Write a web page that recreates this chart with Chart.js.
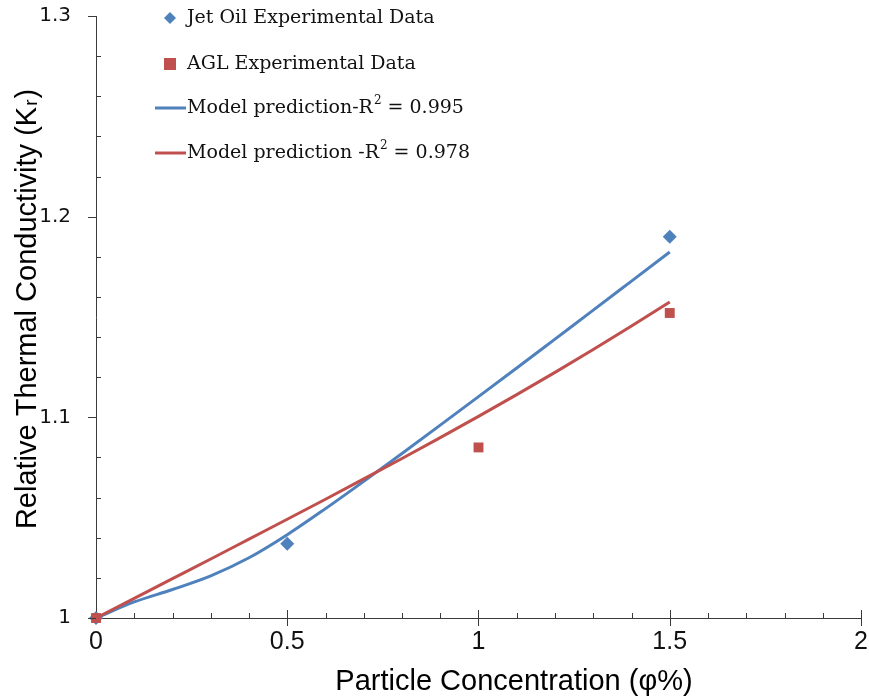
<!DOCTYPE html>
<html>
<head>
<meta charset="utf-8">
<script src="https://cdn.jsdelivr.net/npm/chart.js@4/dist/chart.umd.min.js"></script>
<style>
    html, body { margin: 0; padding: 0; background: #fff; }
    #wrap { width: 869px; height: 698px; position: relative; }
</style>
</head>
<body>
<div id="wrap"><canvas id="chart"></canvas></div>
<script>
// experimental points
const jetOilX = [0, 0.5, 1.5];
const jetOilY = [1.0, 1.037, 1.190];
const aglX = [0, 1.0, 1.5];
const aglY = [1.0, 1.085, 1.152];

// model curves
const modelX = [0, 0.1, 0.2, 0.3, 0.4, 0.5, 0.6, 0.7, 0.8, 0.9, 1.0, 1.1, 1.2, 1.3, 1.4, 1.5];
const modelJetOil = [1.000, 1.0080, 1.0142, 1.0210, 1.0300, 1.0415, 1.0545, 1.0681, 1.0820, 1.0961, 1.1103, 1.1246, 1.1390, 1.1534, 1.1679, 1.1824];
const modelAgl = [1.000, 1.0098, 1.0196, 1.0294, 1.0393, 1.0492, 1.0592, 1.0693, 1.0795, 1.0899, 1.1005, 1.1113, 1.1224, 1.1338, 1.1455, 1.1575];

const legendLabels = ['Jet Oil Experimental Data', 'AGL Experimental Data', 'Model prediction-R', 'Model prediction -R'];
const legendR2 = ['', '', ' = 0.995', ' = 0.978'];

const BLUE = '#4F81BD';
const RED = '#C0504D';
const AXIS = '#3a3a3a';

const toXY = (xs, ys) => xs.map((v, i) => ({ x: v, y: ys[i] }));
const fmt = v => String(+v.toFixed(2));

// minor ticks, crossing major ticks, axis titles and legend
const decor = {
    id: 'decor',
    afterDraw(chart) {
        const { ctx, scales: { x, y } } = chart;
        const x0 = x.getPixelForValue(0);
        const y0 = y.getPixelForValue(1);
        ctx.save();
        ctx.strokeStyle = AXIS;
        ctx.lineWidth = 1;
        ctx.beginPath();
        for (let v = 1; v <= 1.3001; v += 0.02) {
            const py = Math.round(y.getPixelForValue(v)) + 0.5;
            const major = Math.abs(v * 10 - Math.round(v * 10)) < 1e-6;
            if (major) { ctx.moveTo(x0 - 8, py); ctx.lineTo(x0, py); }
            else { ctx.moveTo(x0, py); ctx.lineTo(x0 + 5, py); }
        }
        for (let v = 0.1; v <= 2.0001; v += 0.1) {
            const px = Math.round(x.getPixelForValue(v)) + 0.5;
            const major = Math.abs(v * 2 - Math.round(v * 2)) < 1e-6;
            if (major) { ctx.moveTo(px, y0 - 8); ctx.lineTo(px, y0 + 8); }
            else { ctx.moveTo(px, y0 - 5); ctx.lineTo(px, y0); }
        }
        ctx.stroke();

        // y title with subscript r
        ctx.fillStyle = '#000';
        ctx.translate(28, 310);
        ctx.rotate(-Math.PI / 2);
        const big = '29px "Liberation Sans", Arial, sans-serif';
        const small = '19px "Liberation Sans", Arial, sans-serif';
        ctx.font = big;
        const a = 'Relative Thermal Conductivity (K';
        const wa = ctx.measureText(a).width;
        ctx.font = small;
        const wr = ctx.measureText('r').width;
        ctx.font = big;
        const wc = ctx.measureText(')').width;
        let sx = -(wa + wr + wc) / 2;
        ctx.textBaseline = 'middle';
        ctx.fillText(a, sx, 0);
        ctx.font = small;
        ctx.fillText('r', sx + wa + 1, 4);
        ctx.font = big;
        ctx.fillText(')', sx + wa + wr + 2, 0);
        ctx.setTransform(1, 0, 0, 1, 0, 0);

        // x title
        ctx.font = '29px "Liberation Sans Narrow", "Liberation Sans", sans-serif';
        ctx.textAlign = 'center';
        ctx.textBaseline = 'alphabetic';
        ctx.fillText('Particle Concentration (\u03C6%)', 514, 690);

        // legend
        const rows = [18, 64, 108, 153];
        const tx = 187;
        ctx.textAlign = 'left';
        ctx.textBaseline = 'middle';
        rows.forEach((ry, i) => {
            if (i === 0) {
                ctx.fillStyle = BLUE;
                ctx.beginPath();
                ctx.moveTo(170, ry - 6); ctx.lineTo(176, ry); ctx.lineTo(170, ry + 6); ctx.lineTo(164, ry);
                ctx.closePath(); ctx.fill();
            } else if (i === 1) {
                ctx.fillStyle = RED;
                ctx.fillRect(164, ry - 6, 12, 12);
            } else {
                ctx.strokeStyle = i === 2 ? BLUE : RED;
                ctx.lineWidth = 3;
                ctx.beginPath(); ctx.moveTo(155, ry); ctx.lineTo(186, ry); ctx.stroke();
            }
            ctx.fillStyle = '#111';
            ctx.font = '19px "DejaVu Serif", serif';
            ctx.fillText(legendLabels[i], tx, ry);
            if (legendR2[i]) {
                const w = ctx.measureText(legendLabels[i]).width;
                ctx.font = '12px "DejaVu Serif", serif';
                ctx.fillText('2', tx + w + 1, ry - 7);
                const w2 = ctx.measureText('2').width;
                ctx.font = '19px "DejaVu Serif", serif';
                ctx.fillText(legendR2[i], tx + w + w2 + 1, ry);
            }
        });
        ctx.restore();
    }
};

new Chart(document.getElementById('chart'), {
    type: 'scatter',
    data: {
        datasets: [
            { label: 'Model prediction-R² = 0.995', data: toXY(modelX, modelJetOil), showLine: true, borderColor: BLUE, borderWidth: 3, pointRadius: 0, cubicInterpolationMode: 'monotone', fill: false, order: 3 },
            { label: 'Model prediction -R² = 0.978', data: toXY(modelX, modelAgl), showLine: true, borderColor: RED, borderWidth: 3, pointRadius: 0, cubicInterpolationMode: 'monotone', fill: false, order: 2 },
            { label: 'Jet Oil Experimental Data', data: toXY(jetOilX, jetOilY), pointStyle: 'rectRot', pointRadius: 7, backgroundColor: BLUE, borderColor: BLUE, borderWidth: 0, order: 1 },
            { label: 'AGL Experimental Data', data: toXY(aglX, aglY), pointStyle: 'rect', pointRadius: 7, backgroundColor: RED, borderColor: RED, borderWidth: 0, order: 0 }
        ]
    },
    options: {
        responsive: true,
        maintainAspectRatio: false,
        animation: false,
        clip: false,
        layout: { padding: { top: 16, right: 8, left: 0, bottom: 0 } },
        plugins: { legend: { display: false }, tooltip: { enabled: false } },
        scales: {
            x: {
                type: 'linear', min: 0, max: 2,
                grid: { display: false, drawTicks: false },
                border: { display: true, color: AXIS, width: 1 },
                ticks: { stepSize: 0.5, padding: 9, color: '#111', font: { family: '"Liberation Sans Narrow", "Liberation Sans", sans-serif', size: 25 }, callback: fmt, maxRotation: 0 },
                afterFit: s => { s.height = 80; s.paddingLeft = 0; s.paddingRight = 0; }
            },
            y: {
                type: 'linear', min: 1, max: 1.3,
                grid: { display: false, drawTicks: false },
                border: { display: true, color: AXIS, width: 1 },
                ticks: { stepSize: 0.1, padding: 25, color: '#111', font: { family: '"DejaVu Sans", sans-serif', size: 20 }, callback: fmt },
                afterFit: s => { s.width = 96; s.paddingTop = 0; s.paddingBottom = 0; }
            }
        }
    },
    plugins: [decor]
});
</script>
</body>
</html>
